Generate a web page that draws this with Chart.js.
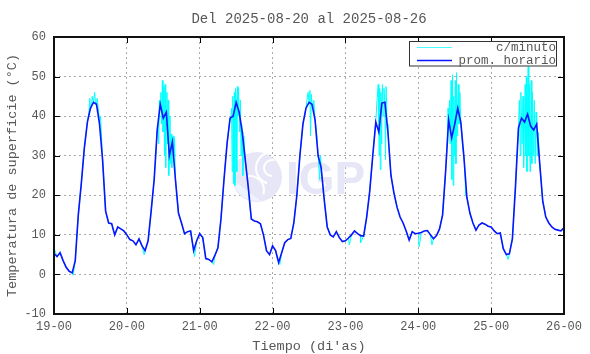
<!DOCTYPE html>
<html><head><meta charset="utf-8">
<script src="https://cdn.jsdelivr.net/npm/chart.js@4/dist/chart.umd.min.js"></script>
<style>html,body{margin:0;padding:0;background:#fff}#wrap{width:590px;height:354px}</style>
</head><body><div id="wrap"><canvas id="c" width="590" height="354"></canvas></div>
<script>
// ---- text ----
const chartTitle = 'Del 2025-08-20 al 2025-08-26';
const xTitle = "Tiempo (di'as)";
const yTitle = 'Temperatura de superficie (°C)';
const legendLabels = ['c/minuto', 'prom. horario'];
const tickLabels = ['19-00','20-00','21-00','22-00','23-00','24-00','25-00','26-00'];
const yTicks = [-10, 0, 10, 20, 30, 40, 50, 60];

// ---- hourly averages (prom. horario), one value per hour ----
const day19 = [5.3,4.5,5.5,3.5,1.8,0.8,0.4,3.5,15,23,32,38.5,42,43.5,43,38,29,16,13,12.8,10,12,11.5,11];
const day20 = [10,8.8,8.5,7.5,9,7.2,6,8.5,16,24,36.5,43,39.5,41,30,33.5,24,15.5,13,10.3,10.8,11,6,8.5];
const day21 = [10.3,9.3,4,3.8,3.2,4.8,6.7,14,24,33,39.5,40,43.5,41,36,29,22,14,13.5,13.3,12.8,10,6,5];
const day22 = [7.2,6,3,5.5,8,8.8,9.1,13,20,30,38,42,43.5,43,39,30,27,19,12,10,9.5,10.8,9.3,8.3];
const day23 = [8.5,9.2,10,11,10.3,9.8,9.7,14.5,21,30,38.5,36,43.3,43.5,36,25,20.5,17,14.5,13,11,8.7,10.8,10.3];
const day24 = [10.4,10.6,11,11.1,10,9,9.8,11.5,15,26,39,34.5,38,42,38.5,30,19.5,15.5,13,11.2,12.5,13,12.7,12.2];
const day25 = [12,11,10.3,10.5,6.5,5,5.2,9,22,37,39.5,38.5,40.5,37.5,36.5,38,28,18.5,14.5,13,12,11.4,11.2,11];
const endValue = 11.8;

// ---- per-minute readings (c/minuto): extra excursions ----
const minuteHours = [0.1,6.3,11.5,11.8,12.3,12.6,13.4,13.7,14.2,14.8,15.3,15.6,
  29.7,33.6,34.2,34.5,34.7,35.2,35.4,35.7,35.9,36.2,36.4,36.6,36.8,37.2,37.4,37.6,37.8,38.2,38.4,38.6,38.8,39.3,39.5,39.7,46.3,
  52.6,58.2,58.5,58.7,58.9,59.2,59.4,59.6,59.8,60.2,60.4,60.6,60.8,61.2,61.4,61.6,61.8,62.2,62.5,
  74.4,83.3,83.7,84.3,84.5,84.8,85.3,85.6,86.5,87.2,87.5,87.8,
  97.3,101,106.4,106.8,107.1,107.3,107.5,107.7,107.9,108.2,108.4,108.7,109.2,109.4,109.7,
  120.3,124.5,129.5,129.8,130.3,130.5,130.8,131.1,131.3,131.5,131.7,131.9,132.2,132.4,132.6,132.8,133.2,133.4,133.7,134.3,134.6,135.3,135.6,
  149.6,153.3,153.6,153.8,154.2,154.5,154.7,155.2,155.4,155.6,155.8,156.2,156.4,156.6,156.8,157.2,157.4,157.6,157.8,158.2,158.5,158.8,159.2,159.5];
const minuteTemps = [6.5,-0.2,41,44.5,42,45,46,43,44.5,40.5,40,36,
  5,31,38,33,44,46,38,49,36,47.5,30,48,27,46,33,44,25,40,28,35.5,27,35,30,34.5,4.5,
  2.5,39,42,26,45,23,46,22.5,47,26,47.5,40,47,36,44,30,38,25,35,
  2.5,44,46,46.5,35,45.5,42,44,36,28,24,30,
  7.5,8,44,48,30,47,26.5,46,33,48,40,47,29,47.5,38,
  7,7.5,33,42,44,33,49,24,50.5,22.5,45,30,49,28,51,35,48,38,46,36,32,27,20,
  3.8,44,30,46,33,45,27,48,30,50,26,52.5,30,48,26,49,28,46,30,44,28,41,30,36];

const hourly = [...day19, ...day20, ...day21, ...day22, ...day23, ...day24, ...day25, endValue];
const hourlyPts = hourly.map((v, i) => ({x: i, y: v}));
const minutePts = hourlyPts.concat(minuteHours.map((h, i) => ({x: h, y: minuteTemps[i]})))
  .sort((a, b) => a.x - b.x);

const FONT = "'Liberation Mono', 'DejaVu Sans Mono', monospace";
const TXT = '#575757';
const CYAN = '#00ffff';
const BLUE = '#0a14ff';

const decor = {
  id: 'decor',
  beforeDatasetsDraw(chart) {
    const ctx = chart.ctx;
    ctx.save();
    // watermark logo
    ctx.fillStyle = '#e6e6f7';
    ctx.beginPath(); ctx.arc(257, 177, 25, 0, Math.PI * 2); ctx.fill();
    ctx.fillStyle = '#ecf4fd';
    ctx.beginPath(); ctx.moveTo(233, 180); ctx.arc(257, 177, 24, Math.PI * 0.95, Math.PI * 0.45, true); ctx.closePath(); ctx.fill();
    ctx.strokeStyle = '#ffffff'; ctx.lineWidth = 2;
    ctx.beginPath(); ctx.arc(272, 168, 16, Math.PI * 0.6, Math.PI * 1.5); ctx.stroke();
    ctx.beginPath(); ctx.arc(272, 168, 8, Math.PI * 0.5, Math.PI * 1.6); ctx.stroke();
    ctx.beginPath(); ctx.arc(250, 190, 14, Math.PI * 1.4, Math.PI * 0.1); ctx.stroke();
    ctx.fillStyle = '#e6e6f7';
    ctx.font = "bold 46px 'Liberation Sans', Arial, sans-serif";
    ctx.textAlign = 'left'; ctx.textBaseline = 'alphabetic';
    ctx.fillText('IGP', 286, 194);
    ctx.restore();
  },
  afterDraw(chart) {
    const ctx = chart.ctx, a = chart.chartArea;
    const xs = chart.scales.x, ys = chart.scales.y;
    ctx.save();
    // inward ticks, mirrored
    ctx.strokeStyle = '#000'; ctx.lineWidth = 1;
    ctx.beginPath();
    yTicks.forEach(v => {
      const y = Math.round(ys.getPixelForValue(v)) + 0.5;
      ctx.moveTo(a.left, y); ctx.lineTo(a.left + 6, y);
      ctx.moveTo(a.right, y); ctx.lineTo(a.right - 6, y);
    });
    tickLabels.forEach((t, i) => {
      const x = Math.round(xs.getPixelForValue(i * 24)) + 0.5;
      ctx.moveTo(x, a.bottom); ctx.lineTo(x, a.bottom - 6);
      ctx.moveTo(x, a.top); ctx.lineTo(x, a.top + 6);
    });
    ctx.stroke();
    // frame
    ctx.lineWidth = 2; ctx.strokeStyle = '#111';
    ctx.strokeRect(a.left, a.top, a.right - a.left, a.bottom - a.top);
    // legend
    ctx.lineWidth = 1; ctx.strokeStyle = '#333'; ctx.fillStyle = '#fff';
    ctx.fillRect(409.5, 41.5, 147, 24.5);
    ctx.strokeRect(409.5, 41.5, 147, 24.5);
    ctx.strokeStyle = 'rgba(0,255,255,0.7)'; ctx.lineWidth = 1;
    ctx.beginPath(); ctx.moveTo(417, 47.5); ctx.lineTo(452, 47.5); ctx.stroke();
    ctx.strokeStyle = BLUE; ctx.lineWidth = 1.5;
    ctx.beginPath(); ctx.moveTo(417, 60.5); ctx.lineTo(452, 60.5); ctx.stroke();
    ctx.fillStyle = TXT; ctx.font = '12.5px ' + FONT;
    ctx.textAlign = 'right'; ctx.textBaseline = 'middle';
    ctx.fillText(legendLabels[0], 556, 48);
    ctx.fillText(legendLabels[1], 556, 61);
    // titles
    ctx.textAlign = 'center';
    ctx.font = '14px ' + FONT;
    ctx.fillText(chartTitle, 309, 19);
    ctx.font = '13.5px ' + FONT;
    ctx.fillText(xTitle, 309, 346);
    ctx.translate(12, 175.5); ctx.rotate(-Math.PI / 2);
    ctx.fillText(yTitle, 0, 0);
    ctx.restore();
  }
};

Chart.defaults.font.family = FONT;
Chart.defaults.color = TXT;

new Chart(document.getElementById('c'), {
  type: 'line',
  data: {
    datasets: [
      {label: legendLabels[1], data: hourlyPts, borderColor: BLUE, borderWidth: 1.6, pointRadius: 0, tension: 0, order: 1},
      {label: legendLabels[0], data: minutePts, borderColor: CYAN, borderWidth: 1, pointRadius: 0, tension: 0, order: 2}
    ]
  },
  options: {
    responsive: false, animation: false, devicePixelRatio: 1,
    layout: {padding: {top: 37, right: 26, left: 0, bottom: 0}},
    plugins: {legend: {display: false}, title: {display: false}, tooltip: {enabled: false}},
    scales: {
      x: {
        type: 'linear', min: 0, max: 168,
        afterFit: s => { s.height = 40; },
        afterBuildTicks: s => { s.ticks = tickLabels.map((t, i) => ({value: i * 24})); },
        ticks: {stepSize: 24, autoSkip: false, maxRotation: 0, padding: 6, font: {size: 12}, color: TXT,
          callback: v => tickLabels[Math.round(v / 24)]},
        grid: {color: '#aaaaaa', lineWidth: 1, drawTicks: false},
        border: {display: false, dash: [2, 3]}
      },
      y: {
        min: -10, max: 60,
        afterFit: s => { s.width = 54; },
        afterBuildTicks: s => { s.ticks = yTicks.map(v => ({value: v})); },
        ticks: {stepSize: 10, padding: 8, font: {size: 12}, color: TXT, callback: v => String(v)},
        grid: {color: '#aaaaaa', lineWidth: 1, drawTicks: false},
        border: {display: false, dash: [2, 3]}
      }
    }
  },
  plugins: [decor]
});
</script>
</body></html>
